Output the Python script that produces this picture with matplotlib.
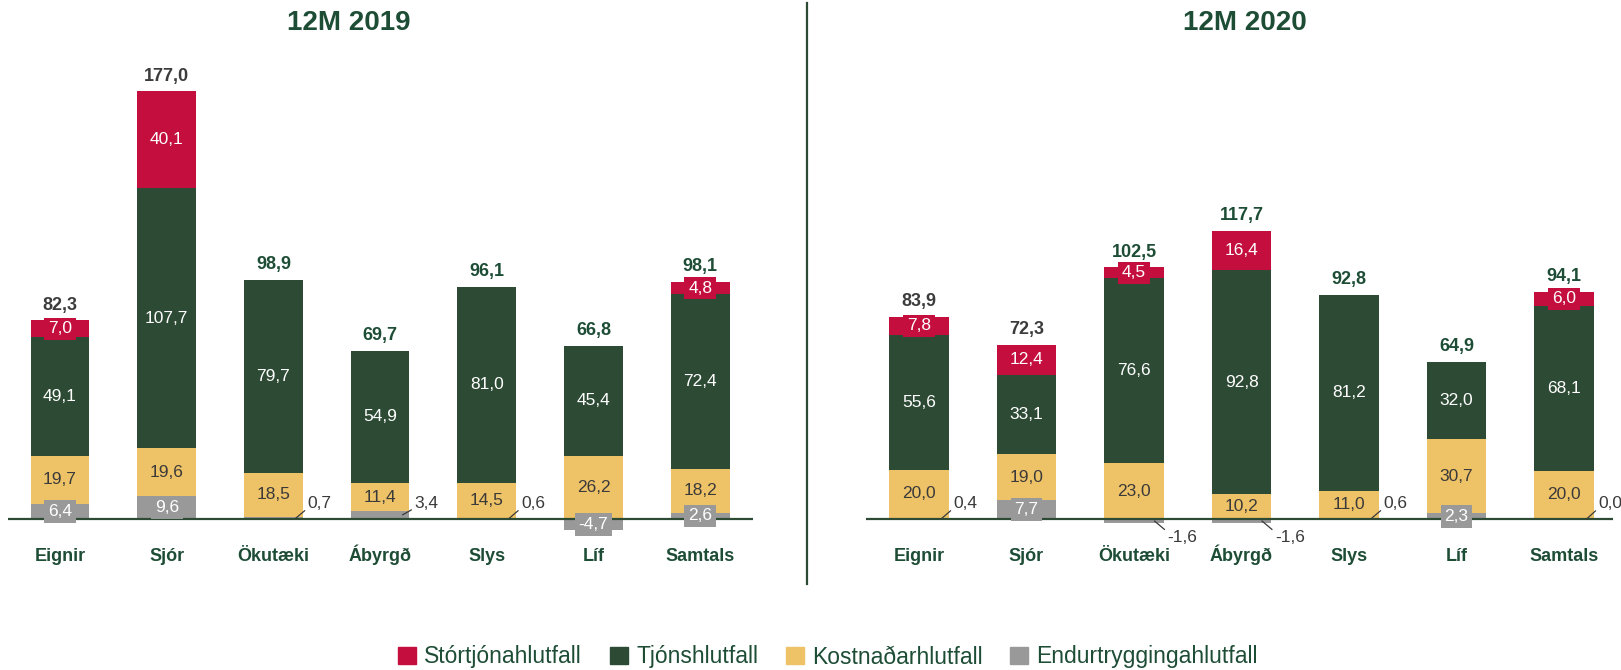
import numpy as np
import matplotlib.pyplot as plt
from matplotlib.patches import Patch
from matplotlib.lines import Line2D

plt.rcParams['font.family'] = ['Liberation Sans', 'DejaVu Sans']

categories = ["Eignir", "Sjór", "Ökutæki", "Ábyrgð", "Slys", "Líf", "Samtals"]

# 12M 2019
stor_2019 = [7.0, 40.1, 0.0, 0.0, 0.0, 0.0, 4.8]
tjons_2019 = [49.1, 107.7, 79.7, 54.9, 81.0, 45.4, 72.4]
kostn_2019 = [19.7, 19.6, 18.5, 11.4, 14.5, 26.2, 18.2]
endur_2019 = [6.4, 9.6, 0.7, 3.4, 0.6, -4.7, 2.6]
total_2019 = [82.3, 177.0, 98.9, 69.7, 96.1, 66.8, 98.1]

# 12M 2020
stor_2020 = [7.8, 12.4, 4.5, 16.4, 0.0, 0.0, 6.0]
tjons_2020 = [55.6, 33.1, 76.6, 92.8, 81.2, 32.0, 68.1]
kostn_2020 = [20.0, 19.0, 23.0, 10.2, 11.0, 30.7, 20.0]
endur_2020 = [0.4, 7.7, -1.6, -1.6, 0.6, 2.3, 0.0]
total_2020 = [83.9, 72.3, 102.5, 117.7, 92.8, 64.9, 94.1]

# grey values written next to the bar instead of inside it
outside_2019 = [2, 3, 4]
outside_2020 = [0, 2, 3, 4, 6]

RED = "#C30E3E"
GREEN = "#2D4A34"
YELLOW = "#EEC266"
GREY = "#999999"
DARKGREEN = "#1E4D36"
DARKTXT = "#3a3a3a"
TOTGREY = "#3c3c3c"

W, H = 1621, 670
fig = plt.figure(figsize=(W / 100, H / 100), dpi=100)

zero_px = 519      # zero line, from top
scale = 2.416      # px per unit
ymin, ymax = -25, 200


def make_axes(left_px, right_px, c0_px, step_px):
    bottom = H - (zero_px - ymin * scale)
    height = (ymax - ymin) * scale
    ax = fig.add_axes([left_px / W, bottom / H, (right_px - left_px) / W, height / H])
    ax.set_xlim((left_px - c0_px) / step_px, (right_px - c0_px) / step_px)
    ax.set_ylim(ymin, ymax)
    ax.axis("off")
    return ax


def seg_label(ax, x, y, txt, color, bg=None, size=12.5):
    kw = {}
    if bg is not None:
        kw["bbox"] = dict(boxstyle="square,pad=0.22", fc=bg, ec="none")
    ax.text(x, y, txt, ha="center", va="center", color=color, fontsize=size, zorder=4, **kw)


def fmt(v):
    return f"{v:.1f}".replace(".", ",")


def draw_panel(ax, stor, tjons, kostn, endur, total, outside, title, title_x):
    x = np.arange(len(categories))
    w = 0.55
    stor = np.array(stor)
    tjons = np.array(tjons)
    kostn = np.array(kostn)
    endur = np.array(endur)

    base = np.clip(endur, 0, None)
    ax.bar(x, endur, w, color=GREY, zorder=2)
    ax.bar(x, kostn, w, bottom=base, color=YELLOW, zorder=2)
    ax.bar(x, tjons, w, bottom=base + kostn, color=GREEN, zorder=2)
    ax.bar(x, stor, w, bottom=base + kostn + tjons, color=RED, zorder=2)
    ax.axhline(0, color=GREEN, lw=1.6, zorder=3)

    for i in range(len(categories)):
        b = base[i]
        seg_label(ax, x[i], b + kostn[i] / 2, fmt(kostn[i]), DARKTXT)
        seg_label(ax, x[i], b + kostn[i] + tjons[i] / 2, fmt(tjons[i]), "white")
        if stor[i] > 0:
            seg_label(ax, x[i], b + kostn[i] + tjons[i] + stor[i] / 2, fmt(stor[i]), "white", bg=RED)
        if i in outside:
            if endur[i] >= 0:
                ax.annotate(fmt(endur[i]), xy=(x[i] + 0.21, endur[i] / 2), xytext=(x[i] + 0.32, 6.6),
                            ha="left", va="center", fontsize=12.5, color=DARKTXT,
                            arrowprops=dict(arrowstyle="-", color=DARKTXT, lw=0.9,
                                            shrinkA=0, shrinkB=0, relpos=(0, 0.15)))
            else:
                ax.annotate(fmt(endur[i]), xy=(x[i] + 0.19, endur[i] / 2), xytext=(x[i] + 0.31, -7.5),
                            ha="left", va="center", fontsize=12.5, color=DARKTXT,
                            arrowprops=dict(arrowstyle="-", color=DARKTXT, lw=0.9,
                                            shrinkA=0, shrinkB=0, relpos=(0, 0.85)))
        else:
            seg_label(ax, x[i], endur[i] / 2, fmt(endur[i]), "white", bg=GREY)

        top = b + kostn[i] + tjons[i] + stor[i]
        col = TOTGREY if i < 2 else DARKGREEN
        ax.annotate(fmt(total[i]), xy=(x[i], top), xytext=(0, 11), textcoords="offset points",
                    ha="center", va="center", fontsize=13, fontweight="bold", color=col)
        ax.text(x[i], -17.4, categories[i], ha="center", va="baseline", fontsize=13,
                fontweight="bold", color=DARKGREEN)

    fig.text(title_x / W, 1 - 23 / H, title, ha="center", va="center", fontsize=20,
             fontweight="bold", color=DARKGREEN)


ax1 = make_axes(8, 753, 60, 106.7)
draw_panel(ax1, stor_2019, tjons_2019, kostn_2019, endur_2019, total_2019, outside_2019, "12M 2019", 349)

ax2 = make_axes(866, 1613, 919, 107.5)
draw_panel(ax2, stor_2020, tjons_2020, kostn_2020, endur_2020, total_2020, outside_2020, "12M 2020", 1245)

# divider between the panels
fig.add_artist(Line2D([807 / W, 807 / W], [1 - 3 / H, 1 - 584 / H], color=GREEN, lw=1.6))

handles = [Patch(color=RED), Patch(color=GREEN), Patch(color=YELLOW), Patch(color=GREY)]
labels = ["Stórtjónahlutfall", "Tjónshlutfall", "Kostnaðarhlutfall", "Endurtryggingahlutfall"]
leg = fig.legend(handles, labels, loc="center", bbox_to_anchor=(828 / W, 13 / H), ncol=4,
                 frameon=False, fontsize=16.5, handlelength=0.8, handleheight=0.8,
                 handletextpad=0.35, columnspacing=1.2)
for t in leg.get_texts():
    t.set_color(DARKGREEN)

fig.savefig("out.png", dpi=100)
